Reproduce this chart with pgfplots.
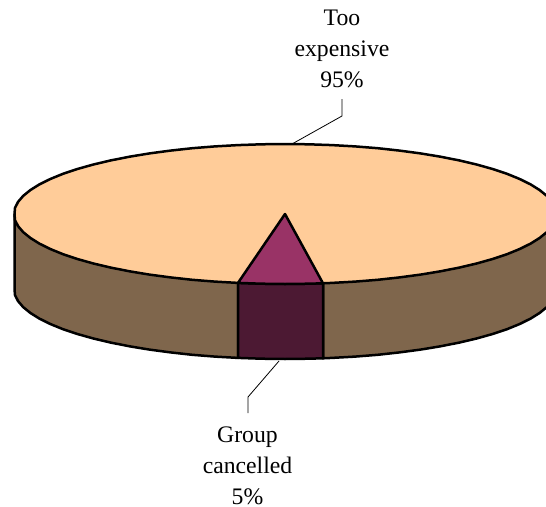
\documentclass[border=0pt]{standalone}
\usepackage{fontspec}
\setmainfont{Liberation Serif}
\usepackage{pgfplots}
\pgfplotsset{compat=1.18}
\definecolor{topbig}{HTML}{FFCC99}
\definecolor{sidebig}{HTML}{7F664C}
\definecolor{topsmall}{HTML}{993366}
\definecolor{sidesmall}{HTML}{4C1933}
\tikzset{
    rimline/.style={draw=black, line width=2.5pt, line join=round, mark=none},
    leader/.style={draw=black, line width=0.8pt, mark=none},
    lbl/.style={align=center, font=\fontsize{23.7}{31}\selectfont, text=black, inner sep=0pt},
}
\begin{document}
\begin{tikzpicture}
\path[use as bounding box] (0,0) rectangle (546pt,506pt);
\begin{axis}[
    at={(0,0)},
    anchor=south west,
    scale only axis,
    width=546pt,
    height=506pt,
    xmin=0, xmax=546,
    ymin=0, ymax=506,
    y dir=reverse,
    hide axis,
]
% right part of the wall (bottom rim, the top face covers the rest)
\addplot[rimline, fill=sidebig] coordinates {
    (323,214) (323,358.3) (332,357.9) (355.1,356.6) (377.7,354.8) (399.5,352.4)
    (420.5,349.6) (440.4,346.3) (459.2,342.6) (476.6,338.5) (492.6,334) (507,329.2)
    (519.7,324) (530.6,318.6) (539.7,312.9) (546.8,307.1) (551.9,301.2) (555,295.1)
    (556,289) (556,214)
} -- cycle;
% left part of the wall
\addplot[rimline, fill=sidebig] coordinates {
    (238,214) (238,357.9) (214.9,356.6) (192.3,354.8) (170.5,352.4) (149.5,349.6)
    (129.6,346.3) (110.8,342.6) (93.4,338.5) (77.4,334) (63,329.2) (50.3,324)
    (39.4,318.6) (30.3,312.9) (23.2,307.1) (18.1,301.2) (15,295.1) (14.5,289) (14.5,214)
} -- cycle;
% wall of the small slice
\addplot[rimline, fill=sidesmall] coordinates {
    (238,214) (238,357.9) (261.4,358.7) (285,359) (308.6,358.7) (323,358.3) (323,214)
} -- cycle;
% top face, 95%
\addplot[rimline, fill=topbig] coordinates {
    (556,214) (555,220.1) (551.9,226.2) (546.8,232.1) (539.7,237.9) (530.6,243.6)
    (519.7,249) (507,254.2) (492.6,259) (476.6,263.5) (459.2,267.6) (440.4,271.3)
    (420.5,274.6) (399.5,277.4) (377.7,279.8) (355.1,281.6) (332,282.9) (323,283.3)
    (308.6,283.7) (285,284) (261.4,283.7) (238,282.9) (214.9,281.6) (192.3,279.8)
    (170.5,277.4) (149.5,274.6) (129.6,271.3) (110.8,267.6) (93.4,263.5) (77.4,259)
    (63,254.2) (50.3,249) (39.4,243.6) (30.3,237.9) (23.2,232.1) (18.1,226.2)
    (15,220.1) (14.5,214) (15,207.9) (18.1,201.8) (23.2,195.9) (30.3,190.1) (39.4,184.4)
    (50.3,179) (63,173.8) (77.4,169) (93.4,164.5) (110.8,160.4) (129.6,156.7)
    (149.5,153.4) (170.5,150.6) (192.3,148.2) (214.9,146.4) (238,145.1) (261.4,144.3)
    (285,144) (308.6,144.3) (332,145.1) (355.1,146.4) (377.7,148.2) (399.5,150.6)
    (420.5,153.4) (440.4,156.7) (459.2,160.4) (476.6,164.5) (492.6,169) (507,173.8)
    (519.7,179) (530.6,184.4) (539.7,190.1) (546.8,195.9) (551.9,201.8) (555,207.9)
} -- cycle;
% top face, 5%
\addplot[rimline, fill=topsmall] coordinates {
    (285,214) (323,283.3) (308.6,283.7) (285,284) (261.4,283.7) (238,282.9)
} -- cycle;
% leader lines
\addplot[leader] coordinates {(292,144) (342,116) (342,99)};
\addplot[leader] coordinates {(279,361) (248,397) (248,413)};
\node[lbl] at (axis cs:342,49) {Too\\expensive\\95\%};
\node[lbl] at (axis cs:247.5,466) {Group\\cancelled\\5\%};
\end{axis}
\end{tikzpicture}
\end{document}
